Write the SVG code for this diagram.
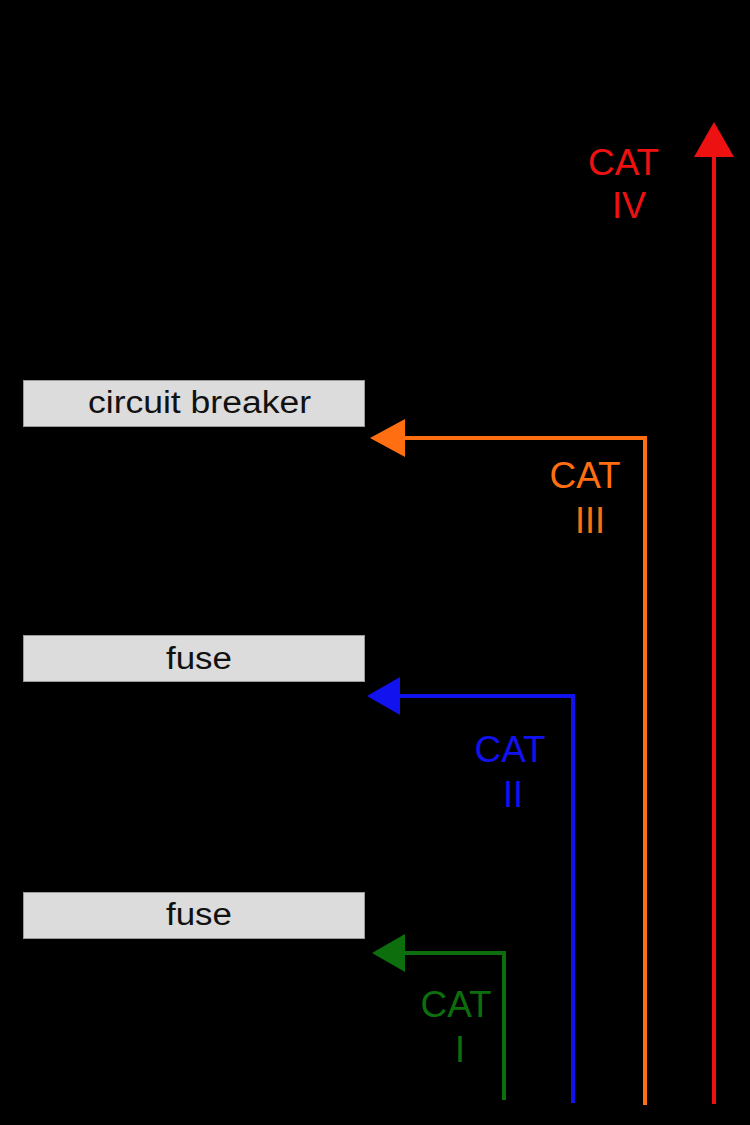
<svg xmlns="http://www.w3.org/2000/svg" width="750" height="1125" viewBox="0 0 750 1125">
<style>
.box{fill:#dcdcdc;stroke:#9a9a9a;stroke-width:1}
.bt{font-family:"Liberation Sans",Arial,sans-serif;font-size:31px;fill:#111;text-anchor:middle}
.cat{font-family:"Liberation Sans",Arial,sans-serif;font-size:36px;text-anchor:middle}
.ln{fill:none;stroke-width:4}
</style>
<defs>
<marker id="aR" markerUnits="userSpaceOnUse" markerWidth="35" markerHeight="40" refX="0" refY="20" orient="auto" overflow="visible"><path d="M0,0 L35,20 L0,40 z" fill="#ee1111"/></marker>
<marker id="aO" markerUnits="userSpaceOnUse" markerWidth="35" markerHeight="40" refX="0" refY="19" orient="auto" overflow="visible"><path d="M0,0 L35,19 L0,38 z" fill="#ff6f12"/></marker>
<marker id="aB" markerUnits="userSpaceOnUse" markerWidth="35" markerHeight="40" refX="0" refY="19" orient="auto" overflow="visible"><path d="M0,0 L33,19 L0,38 z" fill="#1212ee"/></marker>
<marker id="aG" markerUnits="userSpaceOnUse" markerWidth="35" markerHeight="40" refX="0" refY="19" orient="auto" overflow="visible"><path d="M0,0 L33,19 L0,38 z" fill="#0c6e0c"/></marker>
</defs>
<rect width="750" height="1125" fill="#000"/>
<g id="connectors">
<path class="ln" stroke="#ee1111" d="M714,1104 V157" marker-end="url(#aR)"/>
<path class="ln" stroke="#ff6f12" d="M645,1105 V438 H405" marker-end="url(#aO)"/>
<path class="ln" stroke="#1212ee" d="M573,1103 V696 H400" marker-end="url(#aB)"/>
<path class="ln" stroke="#0c6e0c" d="M504,1100 V953 H405" marker-end="url(#aG)"/>
</g>
<g id="node-circuit-breaker">
<rect class="box" x="23.5" y="380.5" width="341" height="46"/>
<text class="bt" x="199.5" y="413" textLength="223" lengthAdjust="spacingAndGlyphs">circuit breaker</text>
</g>
<g id="node-fuse-1">
<rect class="box" x="23.5" y="635.5" width="341" height="46"/>
<text class="bt" x="199" y="669" textLength="66" lengthAdjust="spacingAndGlyphs">fuse</text>
</g>
<g id="node-fuse-2">
<rect class="box" x="23.5" y="892.5" width="341" height="46"/>
<text class="bt" x="199" y="925" textLength="66" lengthAdjust="spacingAndGlyphs">fuse</text>
</g>
<g id="label-cat-iv">
<text class="cat" fill="#ee1111" x="623.5" y="175" textLength="71" lengthAdjust="spacingAndGlyphs">CAT</text>
<text class="cat" fill="#ee1111" x="629" y="218">IV</text>
</g>
<g id="label-cat-iii">
<text class="cat" fill="#ff6f12" x="585" y="488" textLength="71" lengthAdjust="spacingAndGlyphs">CAT</text>
<text class="cat" fill="#ff6f12" x="590" y="533">III</text>
</g>
<g id="label-cat-ii">
<text class="cat" fill="#1212ee" x="510" y="762" textLength="71" lengthAdjust="spacingAndGlyphs">CAT</text>
<text class="cat" fill="#1212ee" x="513" y="807">II</text>
</g>
<g id="label-cat-i">
<text class="cat" fill="#0c6e0c" x="456" y="1017" textLength="71" lengthAdjust="spacingAndGlyphs">CAT</text>
<text class="cat" fill="#0c6e0c" x="460" y="1062">I</text>
</g>
</svg>
